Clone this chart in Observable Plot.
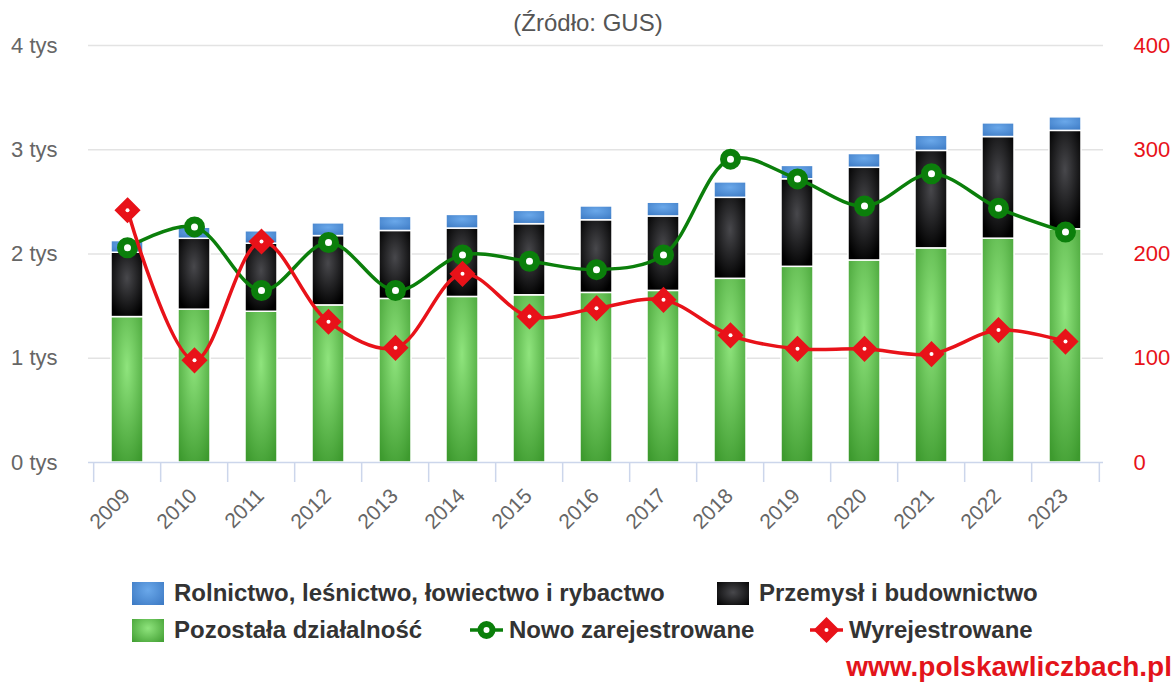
<!DOCTYPE html>
<html>
<head>
<meta charset="utf-8">
<script src="https://cdn.jsdelivr.net/npm/d3@7"></script>
<script src="https://cdn.jsdelivr.net/npm/@observablehq/plot@0.6"></script>
<style>
  body { margin: 0; background: #fff; font-family: "Liberation Sans", Arial, sans-serif; }
  #wrap { position: relative; width: 1176px; height: 684px; overflow: hidden; background: #fff; }
  #title { position: absolute; left: 0; top: 9px; width: 1176px; text-align: center; font-size: 24px; line-height: 28px; color: #555; }
  #chart { position: absolute; left: 0; top: 34px; }
  .li { position: absolute; display: flex; align-items: center; height: 26px; font-weight: bold; font-size: 24px; color: #333; white-space: nowrap; }
  .sw { width: 32px; height: 23px; margin-right: 10px; }
  .ls { margin-right: 6px; }
  #credit { position: absolute; right: 4px; top: 652px; color: #e3141b; font-weight: bold; font-size: 28px; line-height: 30px; }
</style>
</head>
<body>
<div id="wrap">
  <div id="title"></div>
  <div id="chart"></div>
  <div id="legend"></div>
  <div id="credit"></div>
</div>
<script>
// ---- data ----
const years = ["2009","2010","2011","2012","2013","2014","2015","2016","2017","2018","2019","2020","2021","2022","2023"];
const seriesNames = ["Pozostała działalność", "Przemysł i budownictwo", "Rolnictwo, leśnictwo, łowiectwo i rybactwo"];
const pozostala = [1395, 1466, 1446, 1507, 1569, 1588, 1604, 1627, 1646, 1762, 1877, 1938, 2054, 2147, 2237];
const przemysl  = [ 617,  680,  653,  665,  652,  656,  682,  697,  714,  777,  840,  889,  935,  975,  944];
const rolnictwo = [ 112,  106,  119,  122,  135,  131,  128,  132,  132,  148,  128,  132,  145,  131,  130];
const lineNames = ["Nowo zarejestrowane", "Wyrejestrowane"];
const nowe  = [206, 226, 165, 211, 165, 199, 193, 185, 199, 291, 272, 246, 277, 244, 221];
const wyrej = [242,  98, 212, 135, 110, 181, 140, 148, 156, 122, 109, 109, 104, 127, 116];
const leftTicks  = [0, 1000, 2000, 3000, 4000];
const rightTicks = [0, 100, 200, 300, 400];
const titleText = "(Źródło: GUS)";
const creditText = "www.polskawliczbach.pl";

// ---- layout ----
const W = 1176, H = 518, ML = 88, MR = 73, MT = 11, MB = 90;
const step = (W - ML - MR) / years.length;
const ratio = leftTicks[leftTicks.length - 1] / rightTicks[rightTicks.length - 1];
const GREEN = "#0b7f0b", RED = "#e81219", AXIS = "#ccd6eb";

const barData = [];
years.forEach((y, i) => {
  [pozostala, przemysl, rolnictwo].forEach((arr, s) => barData.push({ year: y, series: seriesNames[s], v: arr[i] }));
});
const lineData = years.map((y, i) => ({ year: y, nowe: nowe[i], wyrej: wyrej[i] }));

const svg = Plot.plot({
  width: W, height: H,
  marginLeft: ML, marginRight: MR, marginTop: MT, marginBottom: MB,
  style: { fontFamily: '"Liberation Sans", Arial, sans-serif', background: "transparent", overflow: "visible" },
  x: { domain: years, paddingInner: 0.527, paddingOuter: 0.2635, label: null },
  y: { domain: [0, leftTicks[leftTicks.length - 1]], label: null },
  color: { domain: seriesNames, range: ["url(#gGreen)", "url(#gBlack)", "url(#gBlue)"] },
  marks: [
    Plot.gridY(leftTicks.slice(1), { stroke: "#e3e3e3", strokeOpacity: 1, strokeWidth: 1.5 }),
    Plot.barY(barData, Plot.stackY({ x: "year", y: "v", fill: "series", z: "series", stroke: "white", strokeWidth: 1.5 })),
    Plot.ruleY([0], { stroke: AXIS, strokeWidth: 1.5 }),
    Plot.axisX({ tickSize: 20, tickFormat: () => "", dx: -step / 2, stroke: AXIS, strokeWidth: 1.5, label: null }),
    Plot.axisX([years[years.length - 1]], { tickSize: 20, tickFormat: () => "", dx: step / 2, stroke: AXIS, strokeWidth: 1.5, label: null }),
    Plot.axisX({ tickSize: 0, tickRotate: -45, tickPadding: 30, dx: -1, fontSize: 21, fill: "#666", label: null }),
    Plot.axisY(leftTicks, { anchor: "left", tickSize: 0, tickPadding: 31, tickFormat: d => `${d / 1000} tys`, fontSize: 22, fill: "#666", label: null }),
    Plot.axisY(rightTicks.map(v => v * ratio), { anchor: "right", tickSize: 0, tickPadding: 30, tickFormat: d => `${d / ratio}`, fontSize: 22, fill: RED, label: null }),
    Plot.line(lineData, { x: "year", y: d => d.nowe * ratio, stroke: GREEN, strokeWidth: 3.5, curve: "catmull-rom" }),
    Plot.dot(lineData, { x: "year", y: d => d.nowe * ratio, r: 7, fill: "white", stroke: GREEN, strokeWidth: 7 }),
    Plot.line(lineData, { x: "year", y: d => d.wyrej * ratio, stroke: RED, strokeWidth: 3.5, curve: "catmull-rom" }),
    Plot.dot(lineData, { x: "year", y: d => d.wyrej * ratio, symbol: "diamond2", r: 10.5, fill: RED, stroke: RED, strokeWidth: 2 }),
    Plot.dot(lineData, { x: "year", y: d => d.wyrej * ratio, r: 2, fill: "white", stroke: "none" })
  ]
});

// gradients
const defs = d3.select(svg).insert("defs", ":first-child");
function radial(id, cx, cy, r, c0, c1) {
  const g = defs.append("radialGradient").attr("id", id).attr("cx", cx).attr("cy", cy).attr("r", r);
  g.append("stop").attr("offset", "0%").attr("stop-color", c0);
  g.append("stop").attr("offset", "100%").attr("stop-color", c1);
}
radial("gGreen", "50%", "35%", "75%", "#8fe47d", "#3d9a2e");
radial("gBlack", "50%", "40%", "65%", "#48484c", "#000000");
radial("gBlue", "50%", "35%", "80%", "#6aa8ea", "#3b78c2");

document.getElementById("chart").appendChild(svg);
document.getElementById("title").textContent = titleText;
document.getElementById("credit").textContent = creditText;

// legend
const legend = document.getElementById("legend");
const swatchBg = {
  [seriesNames[0]]: "radial-gradient(ellipse at 50% 40%, #8fe47d, #3f9c30)",
  [seriesNames[1]]: "radial-gradient(ellipse at 50% 45%, #48484c, #000)",
  [seriesNames[2]]: "radial-gradient(ellipse at 50% 35%, #6aa8ea, #3b78c2)"
};
const legendItems = [
  { name: seriesNames[2], kind: "sw", left: 132, row: 0 },
  { name: seriesNames[1], kind: "sw", left: 717, row: 0 },
  { name: seriesNames[0], kind: "sw", left: 132, row: 1 },
  { name: lineNames[0], kind: "circle", left: 470, row: 1 },
  { name: lineNames[1], kind: "diamond", left: 810, row: 1 }
];
const rowTop = [580, 617];
legendItems.forEach(it => {
  const d = document.createElement("div");
  d.className = "li";
  d.style.left = it.left + "px";
  d.style.top = rowTop[it.row] + "px";
  if (it.kind === "sw") {
    const s = document.createElement("span");
    s.className = "sw";
    s.style.background = swatchBg[it.name];
    d.appendChild(s);
  } else {
    const sv = d3.create("svg").attr("width", 33).attr("height", 28).attr("class", "ls");
    if (it.kind === "circle") {
      sv.append("line").attr("x1", 0).attr("x2", 33).attr("y1", 14).attr("y2", 14).attr("stroke", GREEN).attr("stroke-width", 3.5);
      sv.append("circle").attr("cx", 16.5).attr("cy", 14).attr("r", 6).attr("fill", "white").attr("stroke", GREEN).attr("stroke-width", 6);
    } else {
      sv.append("line").attr("x1", 0).attr("x2", 33).attr("y1", 14).attr("y2", 14).attr("stroke", RED).attr("stroke-width", 3.5);
      sv.append("path").attr("d", "M16.5,1L29.5,14L16.5,27L3.5,14Z").attr("fill", RED);
      sv.append("circle").attr("cx", 16.5).attr("cy", 14).attr("r", 2).attr("fill", "white");
    }
    d.appendChild(sv.node());
  }
  const t = document.createElement("span");
  t.textContent = it.name;
  d.appendChild(t);
  legend.appendChild(d);
});
</script>
</body>
</html>
